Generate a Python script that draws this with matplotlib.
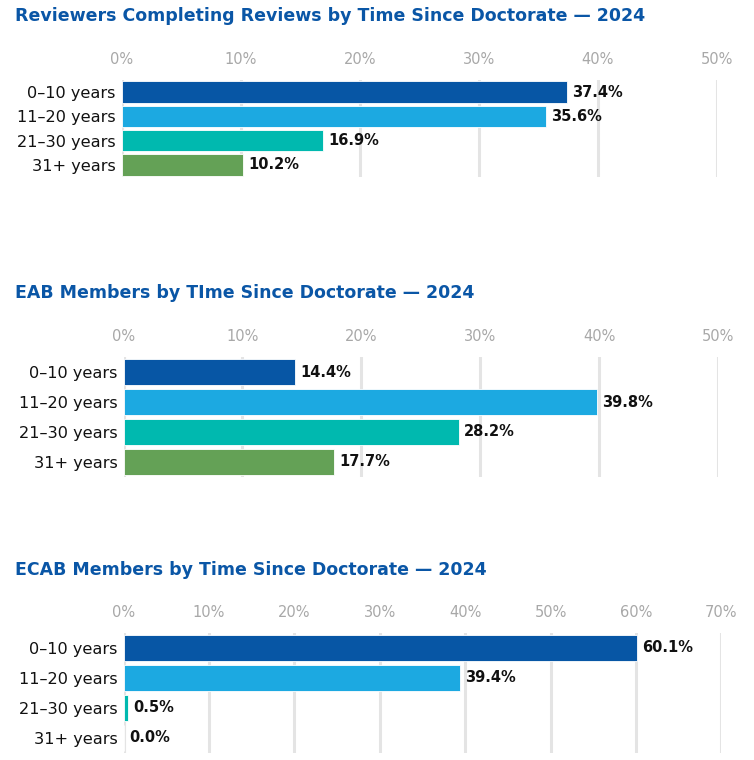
import matplotlib
matplotlib.use("Agg")
import matplotlib.pyplot as plt

categories = ["0–10 years", "11–20 years", "21–30 years", "31+ years"]
titles = ["Reviewers Completing Reviews by Time Since Doctorate — 2024",
          "EAB Members by TIme Since Doctorate — 2024",
          "ECAB Members by Time Since Doctorate — 2024"]
reviewers = [37.4, 35.6, 16.9, 10.2]
eab = [14.4, 39.8, 28.2, 17.7]
ecab = [60.1, 39.4, 0.5, 0.0]
xmax = [50, 50, 70]
colors = ["#0756A5", "#1CA9E1", "#00B9AF", "#64A156"]
title_color = "#0A56A6"

FONT = "DejaVu Sans"
plt.rcParams['font.family'] = [FONT]

W, H = 754, 760
fig = plt.figure(figsize=(W / 100, H / 100), dpi=100)

# layout in pixels: (x0, x_at_max, y_top, y_bottom, title_y, bar_height)
layout = [
    (122, 717, 80, 177, 16, 0.89),
    (123.5, 718.3, 357, 477, 293, 0.86),
    (123.5, 721.3, 633, 753, 570, 0.86),
]
series = [reviewers, eab, ecab]

for i, (vals, (x0, x1, yt, yb, ty, bh)) in enumerate(zip(series, layout)):
    ax = fig.add_axes([x0 / W, 1 - yb / H, (x1 - x0) / W, (yb - yt) / H])
    ypos = list(range(len(categories)))
    ax.barh(ypos, vals, height=bh, color=colors, edgecolor="white", linewidth=0.6, zorder=3)
    ax.set_xlim(0, xmax[i])
    ax.set_ylim(len(categories) - 0.5, -0.5)
    ticks = list(range(0, xmax[i] + 1, 10))
    ax.set_xticks(ticks)
    ax.set_xticklabels([f"{t}%" for t in ticks], color="#A8A8A8", fontsize=10.5)
    ax.xaxis.tick_top()
    ax.tick_params(axis="x", length=0, pad=9.5)
    ax.set_yticks(ypos)
    ax.set_yticklabels(categories, fontsize=11.6, color="#111111")
    ax.tick_params(axis="y", length=0, pad=4.5)
    ax.grid(axis="x", color="#E4E4E4", linewidth=2.2, zorder=0)
    ax.grid(axis="y", visible=False)
    for s in ax.spines.values():
        s.set_visible(False)
    ax.axvline(0, color="#E4E4E4", linewidth=2.2, zorder=1)
    for y, v in zip(ypos, vals):
        ax.annotate(f"{v:.1f}%", (v, y), xytext=(3.8, 0), textcoords="offset points",
                    va="center", ha="left", fontsize=10.5, fontweight="bold", color="#111111", zorder=4)
    fig.text(15 / W, 1 - ty / H, titles[i], color=title_color, fontsize=12.5,
             fontweight="bold", va="center", ha="left")

fig.savefig("out.png", dpi=100)
